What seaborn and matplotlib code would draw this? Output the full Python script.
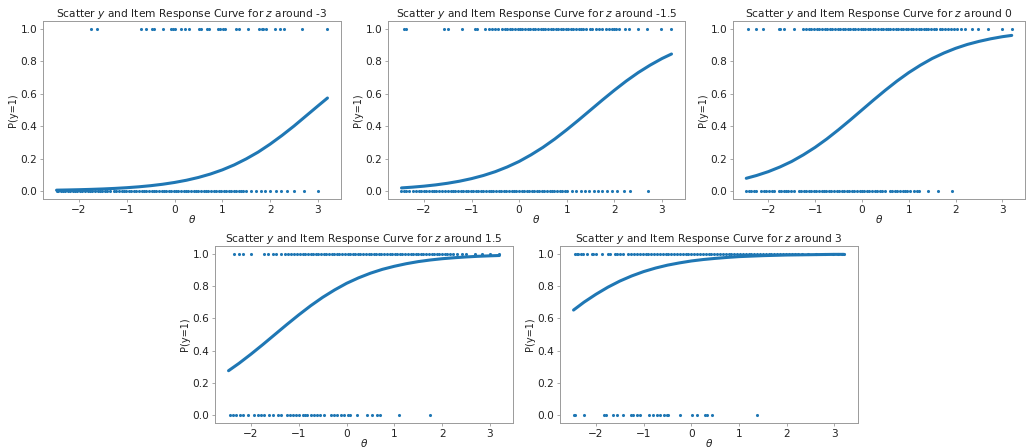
import numpy as np
import pandas as pd
import matplotlib
matplotlib.use("Agg")
import matplotlib.pyplot as plt
import seaborn as sns

sns.set_style("ticks")
plt.rcParams["font.family"] = ["DejaVu Sans"]
plt.rcParams["axes.edgecolor"] = "#9a9a9a"
plt.rcParams["axes.linewidth"] = 0.7
plt.rcParams["xtick.color"] = "#9a9a9a"
plt.rcParams["ytick.color"] = "#9a9a9a"
plt.rcParams["xtick.labelcolor"] = "#222222"
plt.rcParams["ytick.labelcolor"] = "#222222"
plt.rcParams["xtick.major.size"] = 2.5
plt.rcParams["ytick.major.size"] = 2.5
plt.rcParams["xtick.major.width"] = 0.6
plt.rcParams["ytick.major.width"] = 0.6
plt.rcParams["text.color"] = "#222222"
plt.rcParams["axes.labelcolor"] = "#222222"

BLUE = "#1f77b4"

# z levels shown in the panel titles
z_labels = ["-3", "-1.5", "0", "1.5", "3"]

# ability grid for the item response curves
theta_grid = [-2.47, -2.25, -2.0, -1.75, -1.5, -1.25, -1.0, -0.75, -0.5, -0.25, 0.0, 0.25,
              0.5, 0.75, 1.0, 1.25, 1.5, 1.75, 2.0, 2.25, 2.5, 2.75, 3.0, 3.2]

# P(y=1) along theta_grid, one curve per z level
curve_m3 = [0.0046, 0.0058, 0.0074, 0.0095, 0.0121, 0.0155, 0.0198, 0.0253, 0.0323, 0.0411,
            0.0522, 0.0660, 0.0832, 0.1043, 0.130, 0.161, 0.198, 0.240, 0.289, 0.343, 0.401,
            0.463, 0.525, 0.574]
curve_m15 = [0.0185, 0.0230, 0.0293, 0.0373, 0.0474, 0.0601, 0.0759, 0.0953, 0.119, 0.148,
             0.182, 0.223, 0.269, 0.321, 0.378, 0.438, 0.500, 0.562, 0.622, 0.679, 0.731,
             0.777, 0.818, 0.846]
curve_0 = [0.078, 0.0953, 0.119, 0.148, 0.182, 0.223, 0.269, 0.321, 0.378, 0.438, 0.500,
           0.562, 0.622, 0.679, 0.731, 0.777, 0.818, 0.852, 0.881, 0.905, 0.924, 0.940,
           0.953, 0.961]
curve_p15 = [0.275, 0.321, 0.378, 0.438, 0.500, 0.562, 0.622, 0.679, 0.731, 0.777, 0.818,
             0.852, 0.881, 0.905, 0.924, 0.940, 0.953, 0.963, 0.971, 0.977, 0.982, 0.986,
             0.989, 0.991]
curve_p3 = [0.652, 0.701, 0.750, 0.794, 0.832, 0.864, 0.891, 0.913, 0.931, 0.945, 0.957,
            0.966, 0.973, 0.979, 0.984, 0.987, 0.990, 0.992, 0.994, 0.995, 0.996, 0.997,
            0.998, 0.998]

# observed responses: theta of respondents with y=1 and with y=0
ones_m3 = [-1.74, -1.62, -0.70, -0.59, -0.47, -0.42, -0.24, -0.08, -0.04, 0.00, 0.14, 0.22, 0.31,
           0.51, 0.56, 0.68, 0.72, 0.91, 0.96, 1.02, 1.06, 1.28, 1.35, 1.54, 1.77, 1.82, 1.86,
           1.92, 2.11, 2.21, 2.30, 2.67, 3.19]
zeros_m3 = [-2.47, -2.43, -2.38, -2.33, -2.29, -2.24, -2.19, -2.13, -2.08, -2.04, -1.98, -1.93,
            -1.87, -1.82, -1.78, -1.72, -1.67, -1.61, -1.56, -1.51, -1.46, -1.41, -1.36, -1.27,
            -1.22, -1.17, -1.11, -1.06, -1.01, -0.96, -0.91, -0.85, -0.80, -0.75, -0.69, -0.64,
            -0.59, -0.54, -0.48, -0.43, -0.38, -0.33, -0.27, -0.22, -0.17, -0.12, -0.07, -0.02,
            0.03, 0.08, 0.14, 0.19, 0.24, 0.29, 0.34, 0.40, 0.45, 0.50, 0.55, 0.61, 0.66, 0.71,
            0.76, 0.82, 0.87, 0.92, 0.97, 1.03, 1.08, 1.13, 1.18, 1.24, 1.29, 1.34, 1.39, 1.44,
            1.50, 1.61, 1.71, 1.80, 1.89, 1.99, 2.13, 2.23, 2.35, 2.49, 2.70, 3.00]

ones_m15 = [-2.41, -2.37, -1.58, -1.49, -1.20, -0.93, -0.89, -0.72, -0.63, -0.56, -0.51, -0.44,
            -0.37, -0.30, -0.25, -0.19, -0.14, -0.09, -0.03, 0.02, 0.07, 0.13, 0.18, 0.23, 0.29,
            0.34, 0.39, 0.45, 0.50, 0.55, 0.61, 0.66, 0.71, 0.77, 0.82, 0.87, 0.93, 0.98, 1.03,
            1.09, 1.14, 1.19, 1.25, 1.30, 1.35, 1.41, 1.48, 1.54, 1.61, 1.68, 1.75, 1.82, 1.89,
            1.94, 1.99, 2.03, 2.10, 2.23, 2.31, 2.49, 2.68, 2.98, 3.19]
zeros_m15 = [-2.47, -2.42, -2.37, -2.31, -2.22, -2.17, -2.11, -2.06, -2.00, -1.95, -1.90, -1.84,
             -1.79, -1.74, -1.68, -1.63, -1.55, -1.50, -1.44, -1.39, -1.34, -1.28, -1.23, -1.18,
             -1.12, -1.07, -1.02, -0.96, -0.91, -0.86, -0.80, -0.75, -0.70, -0.64, -0.59, -0.54,
             -0.48, -0.43, -0.38, -0.32, -0.27, -0.22, -0.16, -0.11, -0.06, 0.00, 0.05, 0.10,
             0.16, 0.21, 0.26, 0.32, 0.37, 0.42, 0.48, 0.53, 0.58, 0.64, 0.69, 0.74, 0.80, 0.85,
             0.90, 0.96, 1.01, 1.11, 1.20, 1.29, 1.38, 1.46, 1.57, 1.66, 1.75, 1.85, 1.96, 2.06,
             2.20, 2.32, 2.70]

ones_0 = [-2.43, -2.27, -2.11, -1.77, -1.74, -1.67, -1.44, -1.26, -1.20, -1.14, -1.08, -1.02,
          -0.96, -0.91, -0.86, -0.79, -0.74, -0.68, -0.63, -0.57, -0.52, -0.47, -0.41, -0.36,
          -0.30, -0.25, -0.20, -0.14, -0.09, -0.03, 0.02, 0.07, 0.13, 0.18, 0.24, 0.29, 0.34,
          0.40, 0.45, 0.51, 0.56, 0.61, 0.67, 0.72, 0.78, 0.83, 0.88, 0.94, 0.99, 1.05, 1.10,
          1.15, 1.21, 1.26, 1.32, 1.37, 1.42, 1.48, 1.53, 1.58, 1.66, 1.72, 1.78, 1.84, 1.90,
          1.97, 2.04, 2.12, 2.21, 2.35, 2.49, 2.70, 2.99, 3.20]
zeros_0 = [-2.47, -2.42, -2.37, -2.31, -2.26, -2.15, -2.10, -2.04, -1.99, -1.93, -1.88, -1.78,
           -1.73, -1.67, -1.62, -1.57, -1.51, -1.46, -1.35, -1.30, -1.24, -1.19, -1.13, -1.08,
           -1.03, -0.97, -0.92, -0.86, -0.81, -0.76, -0.70, -0.65, -0.59, -0.54, -0.49, -0.43,
           -0.38, -0.32, -0.27, -0.22, -0.16, -0.11, -0.05, 0.00, 0.05, 0.11, 0.16, 0.22, 0.27,
           0.32, 0.38, 0.43, 0.49, 0.60, 0.65, 0.70, 0.76, 0.81, 0.87, 0.92, 0.97, 1.03, 1.11,
           1.17, 1.22, 1.42, 1.63, 1.93]

ones_p15 = [-2.35, -2.26, -2.17, -1.99, -1.72, -1.65, -1.55, -1.48, -1.38, -1.29, -1.23, -1.16,
            -1.10, -1.03, -0.97, -0.92, -0.86, -0.81, -0.75, -0.70, -0.64, -0.59, -0.53, -0.48,
            -0.42, -0.37, -0.31, -0.26, -0.20, -0.15, -0.09, -0.04, 0.02, 0.07, 0.13, 0.18, 0.24,
            0.29, 0.35, 0.40, 0.46, 0.51, 0.57, 0.62, 0.68, 0.73, 0.79, 0.84, 0.90, 0.95, 1.01,
            1.06, 1.12, 1.17, 1.23, 1.28, 1.34, 1.39, 1.45, 1.50, 1.56, 1.61, 1.67, 1.72, 1.78,
            1.83, 1.89, 1.94, 2.00, 2.05, 2.11, 2.16, 2.22, 2.31, 2.41, 2.51, 2.69, 2.83, 3.00,
            3.19]
zeros_p15 = [-2.45, -2.38, -2.31, -2.24, -2.17, -2.06, -1.93, -1.86, -1.79, -1.72, -1.62, -1.55,
             -1.44, -1.37, -1.25, -1.19, -1.13, -1.06, -0.99, -0.92, -0.87, -0.82, -0.75, -0.69,
             -0.62, -0.55, -0.47, -0.33, -0.26, -0.19, -0.12, -0.05, 0.02, 0.08, 0.22, 0.43,
             0.53, 0.64, 0.71, 1.09, 1.75]

ones_p3 = [-2.44, -2.40, -2.37, -2.32, -2.27, -2.18, -2.09, -2.06, -2.00, -1.88, -1.74, -1.71,
           -1.60, -1.55, -1.50, -1.43, -1.32, -1.26, -1.20, -1.14, -1.08, -1.02, -0.96, -0.90,
           -0.84, -0.78, -0.72, -0.66, -0.60, -0.54, -0.48, -0.42, -0.36, -0.30, -0.24, -0.18,
           -0.12, -0.06, 0.00, 0.06, 0.12, 0.18, 0.24, 0.30, 0.36, 0.42, 0.48, 0.54, 0.60, 0.66,
           0.72, 0.78, 0.84, 0.90, 0.96, 1.02, 1.08, 1.14, 1.20, 1.26, 1.32, 1.38, 1.44, 1.50,
           1.56, 1.62, 1.68, 1.74, 1.80, 1.86, 1.92, 1.98, 2.04, 2.10, 2.17, 2.24, 2.32, 2.45,
           2.62, 2.80, 2.96, 3.08, 3.15, 3.21]
zeros_p3 = [-2.47, -2.44, -2.25, -1.83, -1.79, -1.64, -1.55, -1.44, -1.27, -1.23, -1.15, -1.08,
            -0.88, -0.80, -0.73, -0.66, -0.58, -0.52, -0.48, -0.24, 0.02, 0.11, 0.28, 0.33,
            0.43, 1.38]

panels = [
    (z_labels[0], curve_m3, ones_m3, zeros_m3),
    (z_labels[1], curve_m15, ones_m15, zeros_m15),
    (z_labels[2], curve_0, ones_0, zeros_0),
    (z_labels[3], curve_p15, ones_p15, zeros_p15),
    (z_labels[4], curve_p3, ones_p3, zeros_p3),
]

W, H = 1026, 448
fig = plt.figure(figsize=(W / 100, H / 100), dpi=100)

# axes boxes in pixels: left, top, right, bottom
boxes = [
    (43, 21, 341, 199),
    (388, 21, 685, 199),
    (733, 21, 1025, 199),
    (215, 246, 513, 423),
    (560, 246, 858, 423),
]

for (zlab, curve, ones, zeros), (l, t, r, b) in zip(panels, boxes):
    ax = fig.add_axes([l / W, 1 - b / H, (r - l) / W, (b - t) / H])
    obs = pd.DataFrame({
        "theta": ones + zeros,
        "y": [1.0] * len(ones) + [0.0] * len(zeros),
    })
    sns.scatterplot(data=obs, x="theta", y="y", ax=ax, s=5, color=BLUE,
                    linewidth=0, marker="o", legend=False)
    irc = pd.DataFrame({"theta": theta_grid, "p": curve})
    sns.lineplot(data=irc, x="theta", y="p", ax=ax, color=BLUE, linewidth=2.2,
                 sort=False, errorbar=None)
    ax.set_yticks([0.0, 0.2, 0.4, 0.6, 0.8, 1.0])
    ax.set_xticks([-2, -1, 0, 1, 2, 3])
    ax.tick_params(labelsize=7.6, pad=1.5)
    ax.set_xlabel(r"$\theta$", fontsize=7.6, labelpad=-1.2)
    ax.set_ylabel("P(y=1)", fontsize=7, labelpad=2)
    ax.set_title(r"Scatter $y$ and Item Response Curve for $z$ around " + zlab,
                 fontsize=7.7, pad=3)

fig.savefig("out.png", dpi=100)
